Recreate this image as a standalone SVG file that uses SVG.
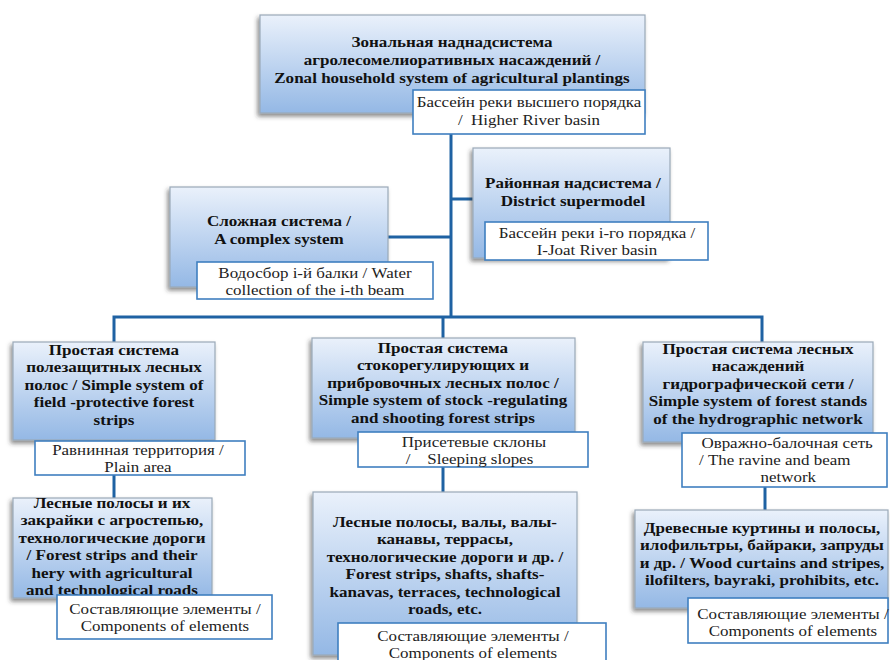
<svg xmlns="http://www.w3.org/2000/svg" width="890" height="660" viewBox="0 0 890 660">
<defs>
<linearGradient id="bg" x1="0" y1="0" x2="0" y2="1">
<stop offset="0" stop-color="#eaf1fb"/>
<stop offset="1" stop-color="#94b8e5"/>
</linearGradient>
<filter id="sh" x="-10%" y="-10%" width="120%" height="130%">
<feDropShadow dx="-2" dy="3" stdDeviation="2" flood-color="#333" flood-opacity="0.55"/>
</filter>
</defs>
<style>
.box{fill:url(#bg);stroke:#9aa9b8;stroke-width:1.2;filter:url(#sh)}
.lab{fill:#fff;stroke:#3f7fc0;stroke-width:1.6}
.t{font-family:"Liberation Serif","Times New Roman",serif;font-weight:bold;font-size:15.5px;fill:#111;text-anchor:middle;transform-box:fill-box;transform-origin:center;transform:scaleX(1.1)}
.l{font-family:"Liberation Serif","Times New Roman",serif;font-size:15px;fill:#222;text-anchor:middle;transform-box:fill-box;transform-origin:center;transform:scaleX(1.13)}
.c{fill:none;stroke:#1f62a3;stroke-width:3}
</style>
<rect width="890" height="660" fill="#fff"/>
<g id="connectors">
<path class="c" d="M451,134 V317"/>
<path class="c" d="M451,199 H474"/>
<path class="c" d="M388,237 H451"/>
<path class="c" d="M114,342 V317 H762 V342"/>
<path class="c" d="M443,317 V338"/>
<path class="c" d="M114,475 V498"/>
<path class="c" d="M443,467 V492"/>
<path class="c" d="M765,487 V510"/>
</g>
<g id="zonal">
<rect class="box" x="260" y="15" width="385" height="98"/>
<text class="t"><tspan x="452" y="47">Зональная наднадсистема</tspan><tspan x="452" y="65">агролесомелиоративных насаждений /</tspan><tspan x="452" y="83">Zonal household system of agricultural plantings</tspan></text>
<rect class="lab" x="413" y="90" width="232" height="44"/>
<text class="l" xml:space="preserve"><tspan x="529" y="107">Бассейн реки высшего порядка</tspan><tspan x="529" y="125">/  Higher River basin</tspan></text>
</g>
<g id="district">
<rect class="box" x="473" y="148" width="197" height="110"/>
<text class="t"><tspan x="573" y="188.5">Районная надсистема /</tspan><tspan x="573" y="206">District supermodel</tspan></text>
<rect class="lab" x="485" y="222" width="223" height="38"/>
<text class="l"><tspan x="597" y="238">Бассейн реки i-го порядка /</tspan><tspan x="597" y="255">I-Joat River basin</tspan></text>
</g>
<g id="complex">
<rect class="box" x="170" y="187" width="218" height="100"/>
<text class="t"><tspan x="279" y="226.5">Сложная система /</tspan><tspan x="279" y="244">A complex system</tspan></text>
<rect class="lab" x="197" y="262" width="236" height="37"/>
<text class="l"><tspan x="315" y="278">Водосбор i-й балки / Water</tspan><tspan x="315" y="295">collection of the i-th beam</tspan></text>
</g>
<g id="simple-field">
<rect class="box" x="13" y="342" width="202" height="98"/>
<text class="t"><tspan x="114" y="355">Простая система</tspan><tspan x="114" y="372.5">полезащитных лесных</tspan><tspan x="114" y="390">полос / Simple system of</tspan><tspan x="114" y="407.5">field -protective forest</tspan><tspan x="114" y="425">strips</tspan></text>
<rect class="lab" x="35" y="441" width="210" height="34"/>
<text class="l"><tspan x="138" y="455">Равнинная территория /</tspan><tspan x="138" y="472">Plain area</tspan></text>
</g>
<g id="simple-stock">
<rect class="box" x="312" y="338" width="263" height="100"/>
<text class="t"><tspan x="443" y="353">Простая система</tspan><tspan x="443" y="370.5">стокорегулирующих и</tspan><tspan x="443" y="388">прибровочных лесных полос /</tspan><tspan x="443" y="405.5">Simple system of stock -regulating</tspan><tspan x="443" y="423">and shooting forest strips</tspan></text>
<rect class="lab" x="358" y="432" width="230" height="35"/>
<text class="l" xml:space="preserve"><tspan x="474" y="447">Присетевые склоны</tspan><tspan x="470" y="464">/    Sleeping slopes</tspan></text>
</g>
<g id="simple-hydro">
<rect class="box" x="643" y="342" width="230" height="100"/>
<text class="t"><tspan x="758" y="354">Простая система лесных</tspan><tspan x="758" y="371.5">насаждений</tspan><tspan x="758" y="389">гидрографической сети /</tspan><tspan x="758" y="406.5">Simple system of forest stands</tspan><tspan x="758" y="424">of the hydrographic network</tspan></text>
<rect class="lab" x="682" y="433" width="205" height="54"/>
<text class="l"><tspan x="787" y="448">Овражно-балочная сеть</tspan><tspan x="776" y="465">/ The ravine and beam</tspan><tspan x="788" y="482">network</tspan></text>
</g>
<g id="elements-field">
<rect class="box" x="13" y="498" width="199" height="100"/>
<text class="t"><tspan x="112" y="508">Лесные полосы и их</tspan><tspan x="112" y="525.5">закрайки с агростепью,</tspan><tspan x="112" y="543">технологические дороги</tspan><tspan x="112" y="560.5">/ Forest strips and their</tspan><tspan x="112" y="578">hery with agricultural</tspan><tspan x="112" y="595.5">and technological roads</tspan></text>
<rect class="lab" x="57" y="595" width="215" height="44"/>
<text class="l"><tspan x="165" y="614">Составляющие элементы /</tspan><tspan x="165" y="631">Components of elements</tspan></text>
</g>
<g id="elements-stock">
<rect class="box" x="313" y="492" width="264" height="163"/>
<text class="t"><tspan x="445" y="527">Лесные полосы, валы, валы-</tspan><tspan x="445" y="544.5">канавы, террасы,</tspan><tspan x="445" y="562">технологические дороги и др. /</tspan><tspan x="445" y="579.5">Forest strips, shafts, shafts-</tspan><tspan x="445" y="597">kanavas, terraces, technological</tspan><tspan x="445" y="614.5">roads, etc.</tspan></text>
<rect class="lab" x="338" y="623" width="268" height="45"/>
<text class="l"><tspan x="473" y="641">Составляющие элементы /</tspan><tspan x="473" y="658">Components of elements</tspan></text>
</g>
<g id="elements-hydro">
<rect class="box" x="635" y="510" width="253" height="98"/>
<text class="t"><tspan x="762" y="533">Древесные куртины и полосы,</tspan><tspan x="762" y="550.5">илофильтры, байраки, запруды</tspan><tspan x="762" y="568">и др. / Wood curtains and stripes,</tspan><tspan x="762" y="585.5">ilofilters, bayraki, prohibits, etc.</tspan></text>
<rect class="lab" x="688" y="598" width="200" height="45"/>
<text class="l"><tspan x="793" y="619">Составляющие элементы /</tspan><tspan x="793" y="636">Components of elements</tspan></text>
</g>
</svg>
